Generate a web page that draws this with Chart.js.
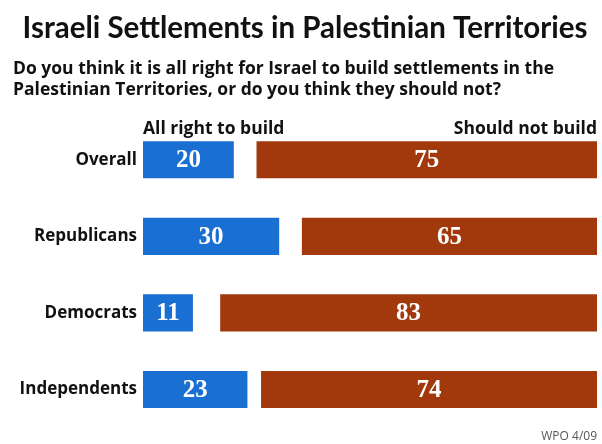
<!DOCTYPE html>
<html>
<head>
<meta charset="utf-8">
<script src="https://cdn.jsdelivr.net/npm/chart.js@4/dist/chart.umd.min.js"></script>
<style>
  html, body { margin: 0; padding: 0; background: #fff; }
  #wrap { width: 602px; height: 444px; }
</style>
</head>
<body>
<div id="wrap"><canvas id="pollChart" width="602" height="444"></canvas></div>
<script>
const groups = ['Overall', 'Republicans', 'Democrats', 'Independents'];
const allRight = [20, 30, 11, 23];
const shouldNot = [75, 65, 83, 74];
const seriesNames = ['All right to build', 'Should not build'];
const titleText = 'Israeli Settlements in Palestinian Territories';
const questionLines = [
    'Do you think it is all right for Israel to build settlements in the',
    'Palestinian Territories, or do you think they should not?'
];
const sourceNote = 'WPO 4/09';

const BLUE = '#1a6fd2';
const BROWN = '#a1390c';
const SANS = '"Open Sans", Lato, sans-serif';

// writes the numbers inside the bars, the two column heads and the source note
const barText = {
    id: 'barText',
    afterDatasetsDraw(chart) {
        let ctx = chart.ctx;
        let x = chart.scales.x;
        ctx.save();
        ctx.fillStyle = '#fff';
        ctx.font = 'bold 25px "Liberation Serif", serif';
        ctx.textAlign = 'center';
        ctx.textBaseline = 'middle';
        [allRight, shouldNot].forEach((vals, d) => {
            chart.getDatasetMeta(d).data.forEach((bar, i) => {
                let c = bar.getCenterPoint();
                ctx.fillText(String(vals[i]), c.x, c.y + 1);
            });
        });

        let firstBar = chart.getDatasetMeta(0).data[0];
        let headY = firstBar.y - firstBar.height / 2 - 7;
        ctx.fillStyle = '#111';
        ctx.font = 'bold 17.5px ' + SANS;
        ctx.textBaseline = 'alphabetic';
        ctx.textAlign = 'left';
        ctx.fillText(seriesNames[0], x.getPixelForValue(0), headY);
        ctx.textAlign = 'right';
        ctx.fillText(seriesNames[1], x.getPixelForValue(100), headY);

        ctx.fillStyle = '#555';
        ctx.font = '12px ' + SANS;
        ctx.fillText(sourceNote, x.getPixelForValue(100), chart.height - 4);
        ctx.restore();
    }
};

let ctx = document.getElementById('pollChart').getContext('2d');
let chart = new Chart(ctx, {
    type: 'bar',
    data: {
        labels: groups,
        datasets: [
            {
                label: seriesNames[0],
                data: allRight,
                backgroundColor: BLUE
            },
            {
                label: seriesNames[1],
                data: shouldNot.map(v => [100 - v, 100]),
                backgroundColor: BROWN
            }
        ]
    },
    options: {
        indexAxis: 'y',
        responsive: false,
        animation: false,
        layout: { padding: { left: 13, right: 5, top: 0, bottom: 9 } },
        datasets: {
            bar: {
                grouped: false,
                categoryPercentage: 1,
                barPercentage: 0.485
            }
        },
        scales: {
            x: { display: false, min: 0, max: 100 },
            y: {
                grid: { display: false, drawTicks: false },
                border: { display: false },
                ticks: {
                    color: '#111',
                    padding: 6,
                    font: { family: SANS, size: 17, weight: 'bold' }
                },
                afterFit(scale) { scale.width = 130; }
            }
        },
        plugins: {
            legend: { display: false },
            tooltip: { enabled: false },
            title: {
                display: true,
                text: titleText,
                color: '#111',
                font: { family: 'Lato, sans-serif', size: 29.5, weight: 'bold', lineHeight: 1.1 },
                padding: { top: 12, bottom: 14 }
            },
            subtitle: {
                display: true,
                text: questionLines,
                align: 'start',
                color: '#111',
                font: { family: SANS, size: 17.5, weight: 'bold', lineHeight: 1.2 },
                padding: { top: 0, bottom: 21 }
            }
        }
    },
    plugins: [barText]
});
</script>
</body>
</html>
